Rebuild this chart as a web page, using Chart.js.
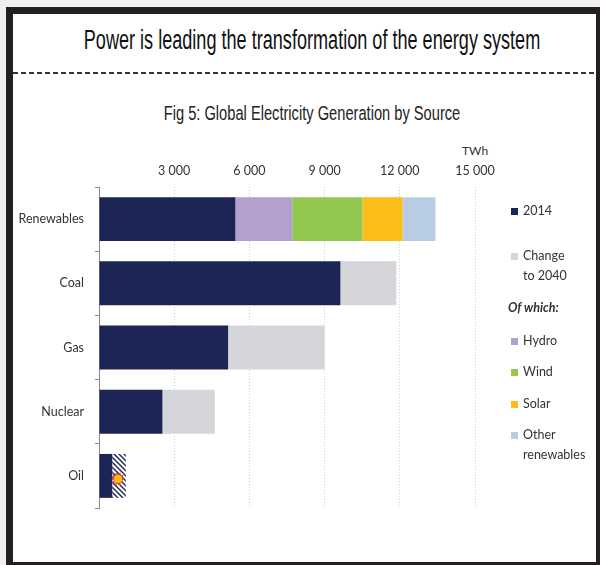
<!DOCTYPE html>
<html>
<head>
<meta charset="utf-8">
<script src="https://cdn.jsdelivr.net/npm/chart.js@4"></script>
<style>
  body { margin: 0; width: 600px; height: 565px; overflow: hidden; background: #efefef; position: relative;
         font-family: Lato, "Liberation Sans", sans-serif; }
  .frame { position: absolute; left: 6px; top: 7px; width: 583px; height: 548px; border: 7px solid #231f20; background: #fff; }
  /* wide box centred on x=312 so the unscaled text never overflows */
  .narrow { position: absolute; left: -200px; width: 1024px; text-align: center; white-space: nowrap;
            font-family: "Liberation Sans", Arial, sans-serif; line-height: 1; transform-origin: 512px 50%; }
  .headline { top: 27px; font-size: 27px; color: #111; transform: scaleX(0.67); }
  .subtitle { top: 103px; font-size: 20.5px; color: #222; transform: scaleX(0.715); }
  .rule { position: absolute; left: 13px; width: 583px; top: 72px; height: 2px;
          background: repeating-linear-gradient(to right, #333 0 5px, transparent 5px 8px); }
  .unit { position: absolute; left: 462px; top: 143px; font-size: 12px; color: #333; }
  #chart { position: absolute; left: 0; top: 0; }
  .legend { position: absolute; left: 508px; top: 0; font-size: 12.5px; color: #333; line-height: 20px; }
  .legend .item { position: absolute; left: 0; white-space: nowrap; }
  .legend .sw { position: absolute; left: 3px; top: 7px; width: 7px; height: 7px; }
  .legend .txt { position: absolute; left: 15px; top: 0; }
  .legend .head { font-style: italic; font-weight: bold; }
</style>
</head>
<body>
<div class="frame"></div>
<div class="narrow headline">Power is leading the transformation of the energy system</div>
<div class="rule"></div>
<div class="narrow subtitle">Fig 5: Global Electricity Generation by Source</div>
<div class="unit">TWh</div>
<canvas id="chart" width="600" height="565"></canvas>
<div class="legend" id="legend"></div>
<script>
  // TWh by source: 2014 level plus the change to 2040
  const categories = ['Renewables', 'Coal', 'Gas', 'Nuclear', 'Oil'];
  const gen2014 = [5440, 9630, 5150, 2530, 530];
  const change2040 = [null, 2230, 3850, 2090, null];
  const hydro = [2270, null, null, null, null];
  const wind = [2800, null, null, null, null];
  const solar = [1600, null, null, null, null];
  const otherRenewables = [1310, null, null, null, null];
  const oilDecline = [null, null, null, null, 540];
  const xTicks = [3000, 6000, 9000, 12000, 15000];

  const NAVY = '#1d2456';
  const LABEL_FONT = 'Lato, "Liberation Sans", sans-serif';
  const fmt = (v) => String(v).replace(/\B(?=(\d{3})+(?!\d))/g, ' ');

  // diagonal hatching for the oil decline segment
  const hatch = (() => {
    const c = document.createElement('canvas');
    c.width = 5; c.height = 5;
    const g = c.getContext('2d');
    g.fillStyle = '#fff';
    g.fillRect(0, 0, 5, 5);
    g.strokeStyle = NAVY;
    g.lineWidth = 1.4;
    g.beginPath();
    g.moveTo(-1, -1); g.lineTo(6, 6);
    g.moveTo(-1, 4); g.lineTo(1, 6);
    g.moveTo(4, -1); g.lineTo(6, 1);
    g.stroke();
    return g.createPattern(c, 'repeat');
  })();

  // small burst marker on the oil bar
  const oilBurst = {
    id: 'oilBurst',
    afterDatasetsDraw(chart) {
      const idx = chart.data.datasets.findIndex((d) => d.label === 'Oil decline');
      const el = chart.getDatasetMeta(idx).data[4];
      if (!el) return;
      const cx = (el.x + el.base) / 2 - 1;
      const cy = el.y + 3;
      const ctx = chart.ctx;
      ctx.save();
      ctx.beginPath();
      for (let i = 0; i < 20; i++) {
        const r = i % 2 ? 4.5 : 7;
        const a = (Math.PI * 2 * i) / 20;
        ctx.lineTo(cx + r * Math.cos(a), cy + r * Math.sin(a));
      }
      ctx.closePath();
      ctx.fillStyle = '#e8412c';
      ctx.fill();
      ctx.beginPath();
      ctx.arc(cx, cy, 4, 0, Math.PI * 2);
      ctx.fillStyle = '#fbbd18';
      ctx.fill();
      ctx.restore();
    },
  };

  const bar = (label, data, color) => ({
    label, data, backgroundColor: color, borderWidth: 0,
    barPercentage: 0.76, categoryPercentage: 0.9,
  });

  new Chart(document.getElementById('chart'), {
    type: 'bar',
    data: {
      labels: categories,
      datasets: [
        bar('2014', gen2014, NAVY),
        bar('Change to 2040', change2040, '#d4d6d9'),
        bar('Hydro', hydro, '#b4a0cc'),
        bar('Wind', wind, '#92c84e'),
        bar('Solar', solar, '#fbbd18'),
        bar('Other renewables', otherRenewables, '#b8cce4'),
        bar('Oil decline', oilDecline, hatch),
      ],
    },
    plugins: [oilBurst],
    options: {
      indexAxis: 'y',
      responsive: false,
      animation: false,
      layout: { padding: { left: 0, top: 0, right: 125, bottom: 57 } },
      plugins: { legend: { display: false }, tooltip: { enabled: false } },
      scales: {
        x: {
          position: 'top',
          stacked: true,
          min: 0,
          max: 15000,
          afterFit: (s) => { s.height = 187; },
          afterBuildTicks: (s) => { s.ticks = [0, ...xTicks].map((v) => ({ value: v })); },
          ticks: {
            padding: 9,
            color: '#333',
            font: { family: LABEL_FONT, size: 12.5 },
            callback: (v) => (v === 0 ? '' : fmt(v)),
          },
          grid: { color: '#cfcfcf', drawTicks: false },
          border: { display: false, dash: [1, 2] },
        },
        y: {
          stacked: true,
          afterFit: (s) => { s.width = 99; },
          ticks: {
            padding: 11,
            color: '#333',
            font: { family: LABEL_FONT, size: 12.5 },
          },
          grid: { drawOnChartArea: false, tickLength: 4, color: '#888' },
          border: { display: true, color: '#888', width: 1 },
        },
      },
    },
  });

  // legend column
  const legendItems = [
    { top: 201, color: NAVY, text: '2014' },
    { top: 246, color: '#d4d6d9', text: 'Change<br>to 2040' },
    { top: 298, head: 'Of which:' },
    { top: 331, color: '#b4a0cc', text: 'Hydro' },
    { top: 362, color: '#92c84e', text: 'Wind' },
    { top: 394, color: '#fbbd18', text: 'Solar' },
    { top: 425, color: '#b8cce4', text: 'Other<br>renewables' },
  ];
  const legend = document.getElementById('legend');
  legendItems.forEach((it) => {
    const div = document.createElement('div');
    div.className = 'item';
    div.style.top = it.top + 'px';
    div.innerHTML = it.head
      ? '<span class="head">' + it.head + '</span>'
      : '<span class="sw" style="background:' + it.color + '"></span><span class="txt">' + it.text + '</span>';
    legend.appendChild(div);
  });
</script>
</body>
</html>
